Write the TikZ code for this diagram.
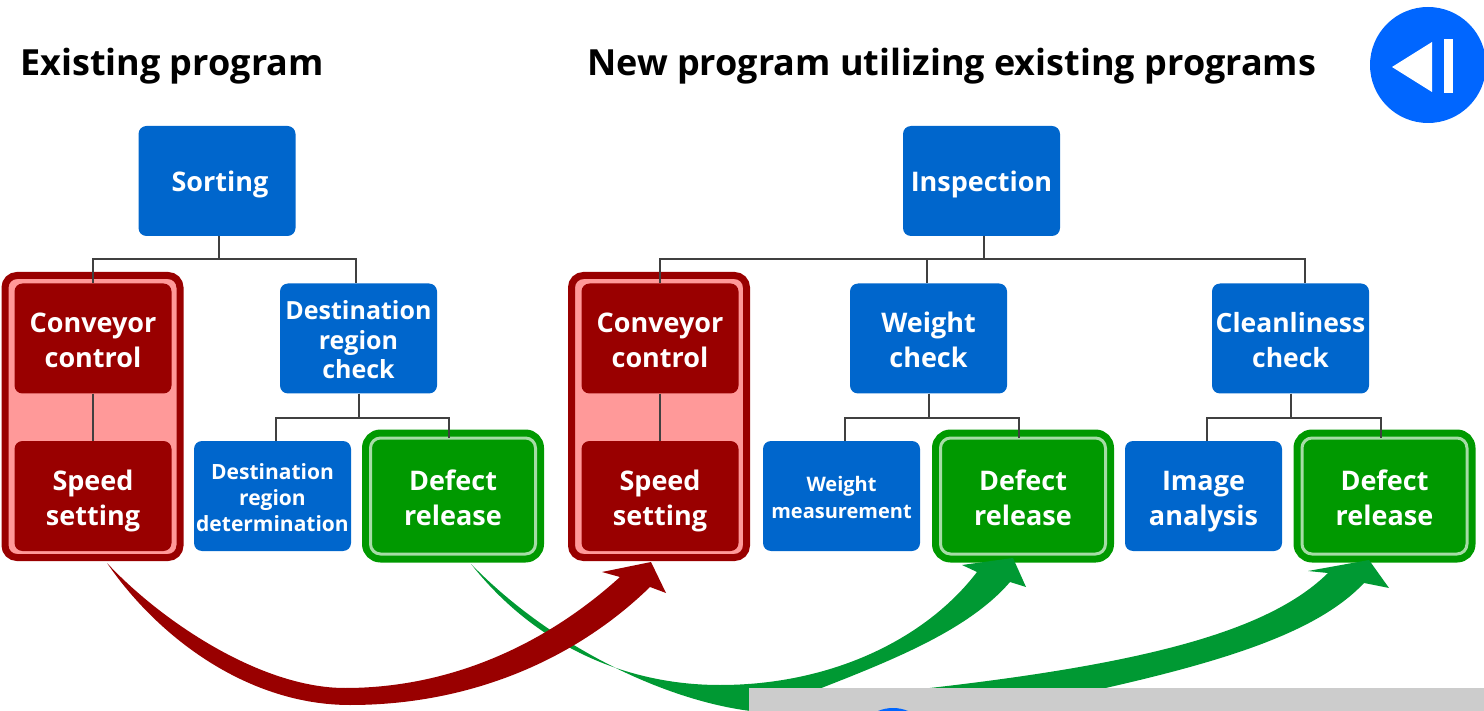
\documentclass[tikz,border=0pt]{standalone}
\usepackage{fontspec}
\setmainfont{Open Sans}
\usetikzlibrary{positioning}

\definecolor{boxblue}{HTML}{0066CC}
\definecolor{boxred}{HTML}{990000}
\definecolor{palered}{HTML}{FF9999}
\definecolor{boxgreen}{HTML}{009900}
\definecolor{palegreen}{HTML}{A6DCA6}
\definecolor{arrowgreen}{HTML}{009933}
\definecolor{barblue}{HTML}{0066FF}
\definecolor{bargray}{HTML}{CCCCCC}
\definecolor{linegray}{HTML}{404040}

\newcommand{\boxfont}[2]{\fontsize{#1}{#2}\selectfont\bfseries}
\newcommand{\boxtext}[2][9]{\raisebox{0pt}[\dimexpr\height+#1pt\relax][\depth]{\begin{tabular}{@{}c@{}}#2\end{tabular}}}

\tikzset{
  box/.style={rectangle, rounded corners=8, text=white, inner sep=0pt,
    minimum width=157, minimum height=110, font=\boxfont{27}{35}},
  bluebox/.style={box, fill=boxblue},
  redbox/.style={box, fill=boxred},
  greenbox/.style={box, fill=boxgreen, minimum width=165, minimum height=116},
  redgroup/.style={rectangle, rounded corners=12, draw=boxred, fill=palered, line width=7,
    minimum width=175, minimum height=282},
  greengroup/.style={rectangle, rounded corners=14, draw=boxgreen, fill=boxgreen, line width=9,
    minimum width=173, minimum height=124},
  title/.style={anchor=base west, inner sep=0pt, font=\boxfont{36}{42}},
  line/.style={draw=linegray, line width=2},
  bus/.style={to path={-- ++(0,#1) -| (\tikztotarget)}},
}

\begin{document}
\begin{tikzpicture}[x=1pt, y=-1pt]
  \clip (0,0) rectangle (1484,711);

  \node[title] (titleA) at (20,76) {Existing program};
  \node[title] (titleB) at (587,76) {New program utilizing existing programs};

  \node[redgroup] (groupA) at (92.5,416.5) {};
  \node[redgroup] (groupB) at (659,416.5) {};
  \node[greengroup] (ringA) at (453,496) {};
  \node[greengroup] (ringB) at (1023,496) {};
  \node[greengroup] (ringC) at (1384.5,496) {};

  \node[bluebox] (sorting) at (217,181) {\boxtext[8]{\hspace*{6pt}Sorting}};
  \node[bluebox] (inspection) at (981.5,181) {\boxtext[8]{Inspection}};

  \node[redbox] (conveyorA) at (93,338.5) {\boxtext{Conveyor\\control}};
  \node[bluebox, font=\boxfont{25}{29.5}] (destCheck) at (358.5,338.5) {\boxtext[10]{Destination\\region\\check}};
  \node[redbox] (conveyorB) at (660,338.5) {\boxtext{Conveyor\\control}};
  \node[bluebox] (weightCheck) at (928.5,338.5) {\boxtext{Weight\\check}};
  \node[bluebox, font=\boxfont{26.5}{35}] (cleanCheck) at (1290.5,338.5) {\boxtext{Cleanliness\\check}};

  \node[redbox] (speedA) at (93,496) {\boxtext{Speed\\setting}};
  \node[bluebox, font=\boxfont{21}{26}] (destDet) at (272.5,496) {\boxtext[8]{Destination\\region\\determination}};
  \node[greenbox] (defectA) at (453,496) {\boxtext{Defect\\release}};
  \node[redbox] (speedB) at (660,496) {\boxtext{Speed\\setting}};
  \node[bluebox, font=\boxfont{20}{27}] (weightMeas) at (841.5,496) {\boxtext[8]{Weight\\measurement}};
  \node[greenbox] (defectB) at (1023,496) {\boxtext{Defect\\release}};
  \node[bluebox] (imageAna) at (1203.5,496) {\boxtext{Image\\analysis}};
  \node[greenbox] (defectC) at (1384.5,496) {\boxtext{Defect\\release}};

  \foreach \ring in {ringA, ringB, ringC}
    \draw[palegreen, line width=3, rounded corners=10]
      ([xshift=-82.5,yshift=58]\ring.center) rectangle ([xshift=82.5,yshift=-58]\ring.center);

  \path[line]
    ([xshift=2]sorting.south) edge[bus=23] (conveyorA.north)
    ([xshift=2]sorting.south) edge[bus=23] ([xshift=-2.5]destCheck.north)
    (conveyorA) edge (speedA)
    (destCheck.south) edge[bus=24] ([xshift=3.5]destDet.north)
    (destCheck.south) edge[bus=24] ([xshift=-4]defectA.north)
    ([xshift=2]inspection.south) edge[bus=23] (conveyorB.north)
    ([xshift=2]inspection.south) edge[bus=23] ([xshift=-1.5]weightCheck.north)
    ([xshift=2]inspection.south) edge[bus=23] ([xshift=14.5]cleanCheck.north)
    (conveyorB) edge (speedB)
    (weightCheck.south) edge[bus=24] ([xshift=3.5]weightMeas.north)
    (weightCheck.south) edge[bus=24] ([xshift=-4]defectB.north)
    (cleanCheck.south) edge[bus=24] ([xshift=3.5]imageAna.north)
    (cleanCheck.south) edge[bus=24] ([xshift=-4]defectC.north);

  \fill[arrowgreen]
    (471,564) .. controls (535,645) and (625,685) .. (720,685)
    .. controls (830,685) and (925,640) .. (977,572)
    -- (962,565) -- (1013,558) -- (1026,587) -- (1010,582)
    .. controls (960,640) and (860,672) .. (760,712)
    .. controls (680,705) and (560,655) .. (471,564) -- cycle;
  \fill[arrowgreen]
    (912,690) .. controls (1150,664) and (1270,630) .. (1328,573)
    -- (1308,571) -- (1369,560) -- (1389,588) -- (1364,583)
    .. controls (1315,635) and (1215,665) .. (1060,698) -- cycle;
  \fill[boxred]
    (107,563) .. controls (160,620) and (260,688) .. (345,688)
    .. controls (450,688) and (545,645) .. (620,577)
    -- (602,572) -- (651,562) -- (666,593) -- (650,587)
    .. controls (575,660) and (470,705) .. (350,705)
    .. controls (250,705) and (160,640) .. (107,563) -- cycle;

  \node[fill=bargray, minimum width=735, minimum height=23, inner sep=0pt, anchor=north west] (bar) at (749,688) {};
  \node[circle, fill=barblue, minimum size=78, inner sep=0pt] (barButton) at (893,747) {};

  \node[circle, fill=barblue, minimum size=116, inner sep=0pt] (backButton) at (1428,65) {};
  \fill[white] (1392,67) -- (1432,42) -- (1432,92) -- cycle;
  \fill[white] (1444,39) rectangle (1453,93);
\end{tikzpicture}
\end{document}
